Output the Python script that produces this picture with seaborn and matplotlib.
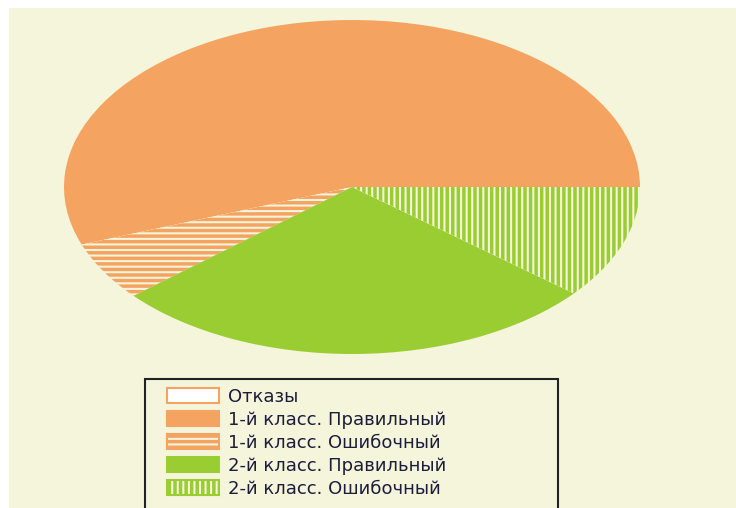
# ---------------- Import Libraries -----------------
import matplotlib
matplotlib.use("Agg")
import matplotlib.pyplot as plt
from matplotlib.patches import Rectangle
import seaborn as sns

# ---------------- Data -----------------
labels = ["Отказы",
          "1-й класс. Правильный",
          "1-й класс. Ошибочный",
          "2-й класс. Правильный",
          "2-й класс. Ошибочный"]
shares = [0.0, 55.6, 5.7, 27.7, 11.0]          # percent

orange = "sandybrown"
green = "yellowgreen"
bg = "beige"
face_colors = ["white", orange, bg, green, bg]
edge_colors = [orange, orange, orange, green, green]
hatches = [None, None, "---", None, "|||"]

# ---------------- Style -----------------
sns.set_theme(style="white")
plt.rcParams["font.family"] = ["DejaVu Sans"]
plt.rcParams["hatch.linewidth"] = 2.5

fig = plt.figure(figsize=(7.36, 5.08), dpi=100)
fig.patch.set_facecolor("white")

# beige panel (white margin top/left like the screenshot)
panel = fig.add_axes([9 / 736, 0, 1 - 9 / 736, 1 - 8 / 508])
panel.set_facecolor(bg)
panel.set_xticks([])
panel.set_yticks([])
for s in panel.spines.values():
    s.set_visible(False)

# stretched pie
ax = fig.add_axes([64 / 736, (508 - 354) / 508, 576 / 736, 334 / 508])
wedges, _ = ax.pie(shares, startangle=0, counterclock=True,
                   colors=face_colors, radius=1.0)
for w, ec, h, lbl in zip(wedges, edge_colors, hatches, labels):
    w.set_edgecolor(ec)
    w.set_linewidth(2 if lbl == "Отказы" else 0)
    if h:
        w.set_hatch(h)
ax.set_aspect("auto")
ax.set_xlim(-1, 1)
ax.set_ylim(-1, 1)
ax.axis("off")

# legend frame drawn separately (runs off the bottom of the picture)
fig.patches.append(Rectangle((145 / 736, -0.01), 413 / 736, (508 - 379) / 508 + 0.01,
                             transform=fig.transFigure, facecolor="none",
                             edgecolor="#222222", linewidth=1.5, zorder=5))

fs = 13
fs_px = fs * 100 / 72
leg = fig.legend(wedges, labels,
                 loc="upper left",
                 bbox_to_anchor=(167 / 736, 1 - 388 / 508),
                 fontsize=fs, frameon=False,
                 handlelength=52 / fs_px, handleheight=16 / fs_px,
                 handletextpad=9 / fs_px,
                 labelspacing=0.27, borderpad=0, borderaxespad=0)
for hd in leg.legend_handles:
    hd.set_linewidth(1.5)
for t in leg.get_texts():
    t.set_color("#1c1c3c")

plt.savefig("out.png", dpi=100, facecolor=fig.get_facecolor())
plt.close()
